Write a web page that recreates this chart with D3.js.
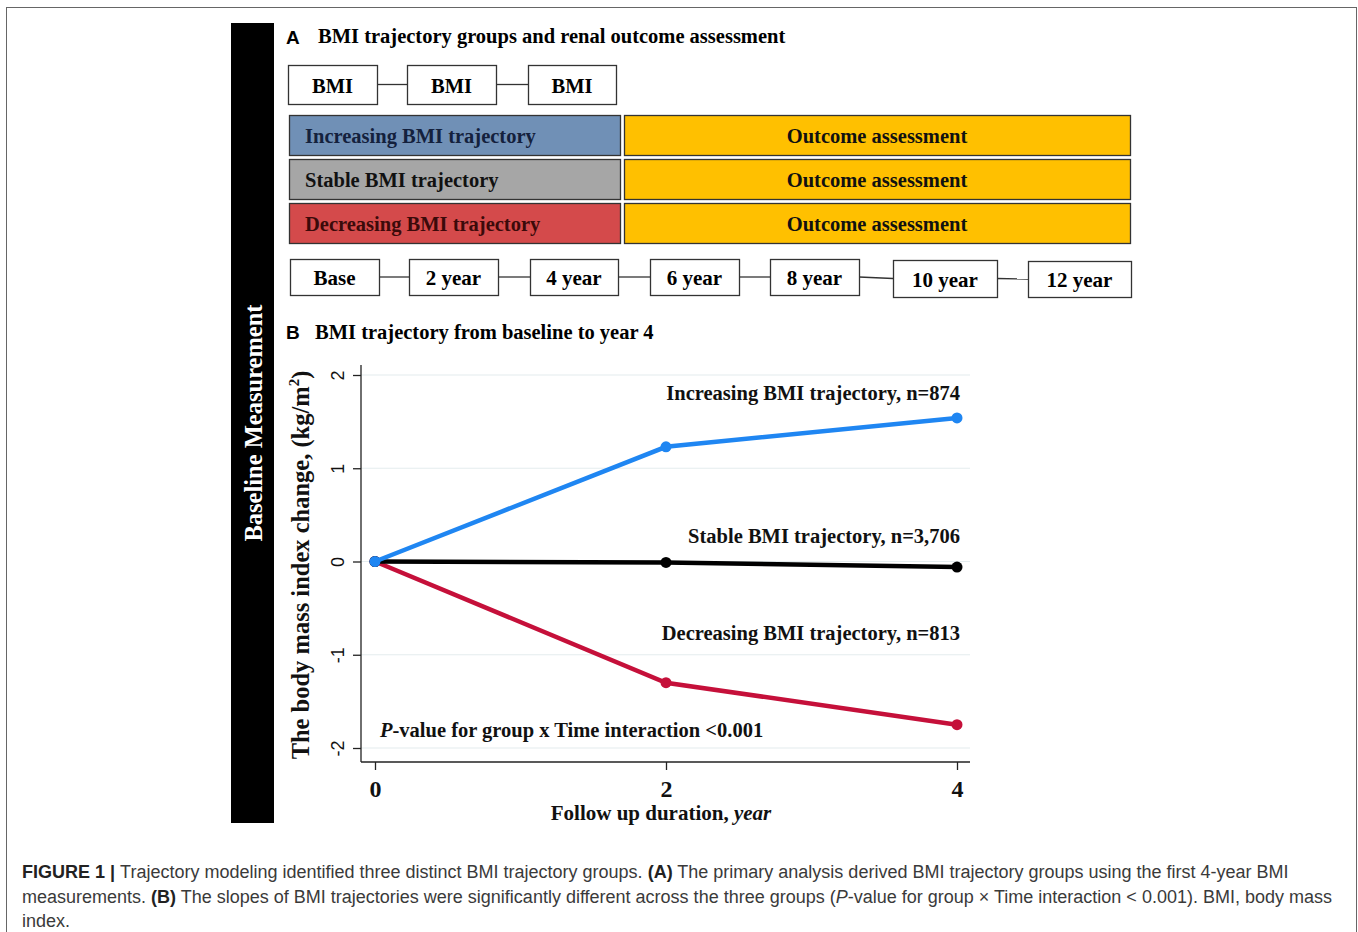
<!DOCTYPE html>
<html>
<head>
<meta charset="utf-8">
<script src="https://cdn.jsdelivr.net/npm/d3@7"></script>
<style>
  body { margin: 0; background: #fff; }
  svg { display: block; }
  .serif { font-family: "Liberation Serif", "Times New Roman", serif; font-weight: bold; }
  .sans { font-family: "Liberation Sans", Arial, Helvetica, sans-serif; }
</style>
</head>
<body>
<svg id="fig" width="1358" height="932"></svg>
<script>
// ---- Data ----
const years = [0, 2, 4];
const increasing = [0, 1.23, 1.54];
const stable = [0, -0.01, -0.06];
const decreasing = [0, -1.30, -1.75];
const yTicks = [-2, -1, 0, 1, 2];
const xTicks = [0, 2, 4];
const seriesNames = ["Increasing BMI trajectory, n=874", "Stable BMI trajectory, n=3,706", "Decreasing BMI trajectory, n=813"];
const groupLabels = ["Increasing BMI trajectory", "Stable BMI trajectory", "Decreasing BMI trajectory"];
const measureLabels = ["BMI", "BMI", "BMI"];
const timeLabels = ["Base", "2 year", "4 year", "6 year", "8 year", "10 year", "12 year"];

const svg = d3.select("#fig");
const FS = 20.5;

// outer frame
svg.append("rect").attr("x", 6.5).attr("y", 7.5).attr("width", 1350).attr("height", 940)
  .attr("fill", "none").attr("stroke", "#666").attr("stroke-width", 1);

// black side band
svg.append("rect").attr("x", 231).attr("y", 23).attr("width", 43).attr("height", 800).attr("fill", "#000");
svg.append("text").attr("class", "serif")
  .attr("transform", "translate(262,423) rotate(-90)")
  .attr("text-anchor", "middle").attr("fill", "#fff").attr("font-size", 24.5)
  .text("Baseline Measurement");

// ---- Panel A ----
svg.append("text").attr("class", "sans").attr("x", 286).attr("y", 44)
  .attr("font-size", 19).attr("font-weight", "bold").text("A");
svg.append("text").attr("class", "serif").attr("x", 318).attr("y", 43)
  .attr("font-size", FS).text("BMI trajectory groups and renal outcome assessment");

// chain of boxes joined by short lines
function boxChain(labels, boxes, fontSize) {
  const g = svg.append("g");
  for (let i = 0; i < boxes.length - 1; i++) {
    const a = boxes[i], b = boxes[i + 1];
    const ya = a.y + a.h / 2, yb = b.y + b.h / 2;
    g.append("line").attr("x1", a.x + a.w).attr("x2", b.x)
      .attr("y1", ya).attr("y2", yb).attr("stroke", "#333").attr("stroke-width", 1.3);
  }
  boxes.forEach((b, i) => {
    g.append("rect").attr("x", b.x + 0.5).attr("y", b.y + 0.5).attr("width", b.w).attr("height", b.h)
      .attr("fill", "#fff").attr("stroke", "#333").attr("stroke-width", 1.3);
    g.append("text").attr("class", "serif").attr("x", b.x + b.w / 2).attr("y", b.y + b.h / 2 + 8)
      .attr("text-anchor", "middle").attr("font-size", fontSize).text(labels[i]);
  });
}

boxChain(measureLabels, [
  { x: 288, y: 65, w: 89, h: 39 },
  { x: 407, y: 65, w: 89, h: 39 },
  { x: 528, y: 65, w: 88, h: 39 }
], FS);

const groupFill = ["#7090b6", "#a6a6a6", "#d44a4b"];
const groupText = ["#14213d", "#111", "#3b0a0a"];
const rowTop = [115, 159, 203];
rowTop.forEach((y, i) => {
  svg.append("rect").attr("x", 289.5).attr("y", y + 0.5).attr("width", 331).attr("height", 40)
    .attr("fill", groupFill[i]).attr("stroke", "#333").attr("stroke-width", 1.3);
  svg.append("text").attr("class", "serif").attr("x", 305).attr("y", y + 28)
    .attr("font-size", FS).attr("fill", groupText[i]).text(groupLabels[i]);
  svg.append("rect").attr("x", 624.5).attr("y", y + 0.5).attr("width", 506).attr("height", 40)
    .attr("fill", "#ffc000").attr("stroke", "#333").attr("stroke-width", 1.3);
  svg.append("text").attr("class", "serif").attr("x", 877).attr("y", y + 28)
    .attr("text-anchor", "middle").attr("font-size", FS).attr("fill", "#111").text("Outcome assessment");
});

boxChain(timeLabels, [
  { x: 290, y: 259, w: 89, h: 36 },
  { x: 409, y: 259, w: 89, h: 36 },
  { x: 530, y: 259, w: 88, h: 36 },
  { x: 650, y: 259, w: 89, h: 36 },
  { x: 770, y: 259, w: 89, h: 36 },
  { x: 893, y: 260, w: 104, h: 37 },
  { x: 1028, y: 261, w: 103, h: 36 }
], 21);

// ---- Panel B ----
svg.append("text").attr("class", "sans").attr("x", 286).attr("y", 339)
  .attr("font-size", 19).attr("font-weight", "bold").text("B");
svg.append("text").attr("class", "serif").attr("x", 315).attr("y", 339)
  .attr("font-size", FS).text("BMI trajectory from baseline to year 4");

const x = d3.scaleLinear().domain([0, 4]).range([375, 957]);
const y = d3.scaleLinear().domain([-2, 2]).range([748, 375]);
const plotLeft = 361, plotRight = 970, plotBottom = 762, plotTop = 365;

// gridlines
svg.append("g").selectAll("line").data(yTicks).join("line")
  .attr("x1", plotLeft).attr("x2", plotRight)
  .attr("y1", d => y(d)).attr("y2", d => y(d))
  .attr("stroke", "#e4ecee").attr("stroke-width", 1.2);

// y axis
const yAxis = svg.append("g").attr("transform", `translate(${plotLeft},0)`)
  .call(d3.axisLeft(y).tickValues(yTicks).tickSize(8).tickFormat(d3.format("d")));
yAxis.select(".domain").attr("d", `M0,${plotTop}V${plotBottom}`).attr("stroke", "#222").attr("stroke-width", 1.3);
yAxis.selectAll(".tick line").attr("stroke", "#222").attr("stroke-width", 1.3);
yAxis.selectAll(".tick text")
  .attr("class", "sans").attr("font-size", 18).attr("fill", "#111")
  .attr("x", null).attr("dy", null)
  .attr("transform", "translate(-17,0) rotate(-90)")
  .attr("text-anchor", "middle").attr("dominant-baseline", "auto")
  .attr("y", 0);
yAxis.selectAll(".tick text").text(d => d < 0 ? "-" + Math.abs(d) : d);

// x axis
const xAxis = svg.append("g").attr("transform", `translate(0,${plotBottom})`)
  .call(d3.axisBottom(x).tickValues(xTicks).tickSize(8).tickFormat(d3.format("d")));
xAxis.select(".domain").attr("d", `M${plotLeft},0H${plotRight}`).attr("stroke", "#222").attr("stroke-width", 1.3);
xAxis.selectAll(".tick line").attr("stroke", "#222").attr("stroke-width", 1.3);
xAxis.selectAll(".tick text").attr("class", "serif").attr("font-size", 24).attr("fill", "#111")
  .attr("y", 35).attr("dy", null);

// axis titles
const xt = svg.append("text").attr("class", "serif").attr("x", 661).attr("y", 820)
  .attr("text-anchor", "middle").attr("font-size", 21).attr("fill", "#111");
xt.append("tspan").text("Follow up duration, ");
xt.append("tspan").attr("font-style", "italic").text("year");

const yt = svg.append("text").attr("class", "serif")
  .attr("transform", "translate(309,565) rotate(-90)")
  .attr("text-anchor", "middle").attr("font-size", 24.5).attr("fill", "#111");
yt.append("tspan").text("The body mass index change, (kg/m");
yt.append("tspan").attr("font-size", 15).attr("dy", -10).text("2");
yt.append("tspan").attr("dy", 10).text(")");

// trajectories
const series = [
  { values: increasing, color: "#1f86f2" },
  { values: stable, color: "#000000" },
  { values: decreasing, color: "#c5103a" }
];
const line = d3.line().x((d, i) => x(years[i])).y(d => y(d));
// decreasing and stable first, increasing on top at the origin
[2, 1, 0].forEach(k => {
  const s = series[k];
  svg.append("path").datum(s.values).attr("d", line)
    .attr("fill", "none").attr("stroke", s.color).attr("stroke-width", 4.5);
  svg.append("g").selectAll("circle").data(s.values).join("circle")
    .attr("cx", (d, i) => x(years[i])).attr("cy", d => y(d)).attr("r", 5.5)
    .attr("fill", s.color);
});

// series labels
const labelY = [400, 543, 640];
seriesNames.forEach((t, i) => {
  svg.append("text").attr("class", "serif").attr("x", 960).attr("y", labelY[i])
    .attr("text-anchor", "end").attr("font-size", FS).attr("fill", "#111").text(t);
});

const pt = svg.append("text").attr("class", "serif").attr("x", 380).attr("y", 737)
  .attr("font-size", FS).attr("fill", "#111");
pt.append("tspan").attr("font-style", "italic").text("P");
pt.append("tspan").text("-value for group x Time interaction <0.001");

// ---- Caption ----
const cap = svg.append("g").attr("class", "sans").attr("font-size", 18).attr("fill", "#3a3a3a");
const c1 = cap.append("text").attr("x", 22).attr("y", 878);
c1.append("tspan").attr("font-weight", "bold").attr("fill", "#222").text("FIGURE 1 | ");
c1.append("tspan").text("Trajectory modeling identified three distinct BMI trajectory groups. ");
c1.append("tspan").attr("font-weight", "bold").attr("fill", "#222").text("(A)");
c1.append("tspan").text(" The primary analysis derived BMI trajectory groups using the first 4-year BMI");
const c2 = cap.append("text").attr("x", 22).attr("y", 903);
c2.append("tspan").text("measurements. ");
c2.append("tspan").attr("font-weight", "bold").attr("fill", "#222").text("(B)");
c2.append("tspan").text(" The slopes of BMI trajectories were significantly different across the three groups (");
c2.append("tspan").attr("font-style", "italic").text("P");
c2.append("tspan").text("-value for group \u00d7 Time interaction < 0.001). BMI, body mass");
cap.append("text").attr("x", 22).attr("y", 927).text("index.");
</script>
</body>
</html>
